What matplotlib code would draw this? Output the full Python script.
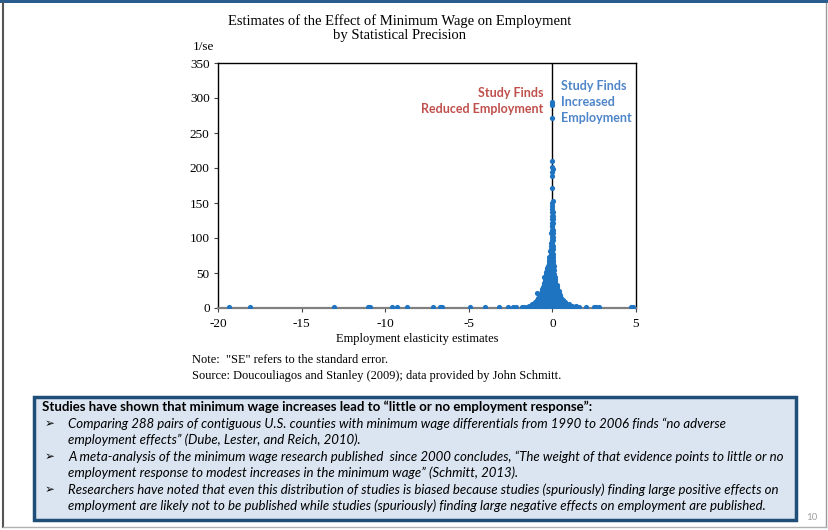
import matplotlib
matplotlib.use("Agg")
import matplotlib.pyplot as plt
from matplotlib.patches import Rectangle
from matplotlib.lines import Line2D

# ---------------- data ----------------
# scattered low-precision estimates along the bottom
outlier_x = [-19.34, -18.07, -13.08, -11.03, -10.93, -9.62, -9.32, -8.70, -7.15,
             -6.71, -6.59, -4.90, -4.04, -3.22, -2.68, -2.38, -2.18, -1.80,
             1.41, 2.00, 2.50, 2.60, 2.80, 4.72, 4.80]
outlier_y = [1.0, 1.0, 1.0, 1.0, 1.0, 1.0, 1.0, 1.0, 1.0,
             1.0, 1.0, 1.0, 1.0, 1.0, 1.5, 1.0, 1.5, 2.0,
             2.5, 1.5, 1.0, 1.5, 1.5, 1.0, 1.0]

# dense cluster around zero: precision levels and the estimates at each level
blob_levels = [1, 3, 6, 9, 12, 15, 18, 21, 24, 27, 30, 33, 36, 39, 42, 45, 48,
               51, 54, 57, 60, 63, 66, 69, 73, 77, 81, 85, 89, 93, 97, 102,
               107, 112, 117, 122, 127, 132, 137]
blob_x = [
    [-1.7, -1.5, -1.3, -1.1, -0.9, -0.7, -0.5, -0.3, -0.1, 0.1, 0.3, 0.5, 0.7, 0.9, 1.1, 1.3, 1.6],
    [-1.4, -1.2, -1.0, -0.8, -0.6, -0.4, -0.2, 0.0, 0.2, 0.4, 0.6, 0.8, 1.0, 1.2],
    [-1.2, -1.0, -0.8, -0.6, -0.4, -0.2, 0.0, 0.2, 0.4, 0.6, 0.8, 1.0],
    [-1.05, -0.85, -0.65, -0.45, -0.25, -0.05, 0.15, 0.35, 0.55, 0.75],
    [-0.95, -0.75, -0.55, -0.35, -0.15, 0.05, 0.25, 0.45, 0.62],
    [-0.85, -0.65, -0.45, -0.25, -0.05, 0.15, 0.35, 0.52],
    [-0.75, -0.55, -0.35, -0.15, 0.05, 0.25, 0.45],
    [-0.68, -0.5, -0.3, -0.1, 0.1, 0.3, 0.42],
    [-0.62, -0.45, -0.28, -0.1, 0.08, 0.25, 0.4],
    [-0.6, -0.42, -0.25, -0.08, 0.1, 0.28],
    [-0.58, -0.4, -0.22, -0.05, 0.12, 0.3],
    [-0.52, -0.36, -0.2, -0.04, 0.12, 0.25],
    [-0.5, -0.34, -0.18, -0.02, 0.14],
    [-0.45, -0.3, -0.15, 0.0, 0.15],
    [-0.45, -0.28, -0.12, 0.02, 0.15],
    [-0.48, -0.3, -0.14, 0.0, 0.15],
    [-0.4, -0.25, -0.1, 0.05, 0.12],
    [-0.38, -0.22, -0.08, 0.06],
    [-0.33, -0.18, -0.05, 0.08],
    [-0.3, -0.15, -0.02, 0.06],
    [-0.28, -0.14, 0.0, 0.08],
    [-0.22, -0.1, 0.02],
    [-0.2, -0.08, 0.03],
    [-0.18, -0.05, 0.04],
    [-0.22, -0.04, 0.04],
    [-0.1, 0.02],
    [-0.12, 0.0],
    [-0.08, 0.03],
    [-0.06, 0.02],
    [-0.1, 0.0],
    [-0.05, 0.03],
    [-0.04, 0.02],
    [-0.06, 0.01],
    [-0.03, 0.02],
    [-0.05, 0.0],
    [-0.02, 0.03],
    [-0.04, 0.01],
    [-0.03, 0.02],
    [-0.02, 0.01],
]
# isolated point left of the cluster
side_x = [-0.9]
side_y = [22]

# very precise estimates forming the spike
spike_x = [-0.04, 0.0, -0.02, 0.01, -0.01, 0.0, -0.02, 0.01, -0.01, 0.0, 0.0, -0.02, -0.01, 0.0]
spike_y = [142, 146, 150, 153, 171, 188, 195, 198, 202, 210, 272, 290, 292, 295]

x_ticks = [-20, -15, -10, -5, 0, 5]
y_ticks = [0, 50, 100, 150, 200, 250, 300, 350]

title_text = "Estimates of the Effect of Minimum Wage on Employment\nby Statistical Precision"
x_label = "Employment elasticity estimates"
y_label = "1/se"
note_lines = ['Note:  "SE" refers to the standard error.',
              'Source: Doucouliagos and Stanley (2009); data provided by John Schmitt.']
left_label = "Study Finds\nReduced Employment"
right_label = "Study Finds\nIncreased\nEmployment"
box_heading = "Studies have shown that minimum wage increases lead to \u201clittle or no employment response\u201d:"
box_lines = [
    ("\u27a2", "Comparing 288 pairs of contiguous U.S. counties with minimum wage differentials from 1990 to 2006 finds \u201cno adverse"),
    ("", "employment effects\u201d (Dube, Lester, and Reich, 2010)."),
    ("\u27a2", "A meta-analysis of the minimum wage research published  since 2000 concludes, \u201cThe weight of that evidence points to little or no"),
    ("", "employment response to modest increases in the minimum wage\u201d (Schmitt, 2013)."),
    ("\u27a2", "Researchers have noted that even this distribution of studies is biased because studies (spuriously) finding large positive effects on"),
    ("", "employment are likely not to be published while studies (spuriously) finding large negative effects on employment are published."),
]
page_number = "10"

# ---------------- figure ----------------
W, H = 829, 530
fig = plt.figure(figsize=(W / 100, H / 100), dpi=100)
fig.patch.set_facecolor("white")

def fx(px):
    return px / W

def fy(py):
    return 1 - py / H

# slide frame
fig.add_artist(Rectangle((0, fy(3)), 1, 3 / H, transform=fig.transFigure,
                         facecolor="#2a5d8f", edgecolor="none"))
fig.add_artist(Line2D([fx(3.5), fx(3.5)], [fy(3), fy(527)], transform=fig.transFigure,
                      color="#555555", lw=1.5))
fig.add_artist(Line2D([fx(826), fx(826)], [fy(3), fy(527)], transform=fig.transFigure,
                      color="#9a9a9a", lw=1.0))
fig.add_artist(Line2D([fx(3), fx(826)], [fy(527), fy(527)], transform=fig.transFigure,
                      color="#b0b0b0", lw=1.0))

serif = "Liberation Serif"
ax = fig.add_axes([fx(218), fy(308), fx(636) - fx(218), fy(63) - fy(308)])
ax.set_xlim(-20, 5)
ax.set_ylim(0, 350)

pt_color = "#1f74c2"
ms = 14
ax.axvline(0, color="black", lw=1.0, zorder=2)
ax.scatter(outlier_x, outlier_y, s=ms, color=pt_color, zorder=3, linewidths=0)
bx, by = [], []
for lvl, xs in zip(blob_levels, blob_x):
    for v in xs:
        bx.append(v)
        by.append(lvl)
ax.scatter(bx, by, s=ms, color=pt_color, zorder=3, linewidths=0)
ax.scatter(side_x, side_y, s=ms, color=pt_color, zorder=3, linewidths=0)
ax.scatter(spike_x, spike_y, s=ms, color=pt_color, zorder=3, linewidths=0)

ax.set_xticks(x_ticks)
ax.set_xticklabels([str(t) for t in x_ticks])
ax.set_yticks(y_ticks)
ax.set_yticklabels([str(t) for t in y_ticks])
for lab in ax.get_xticklabels() + ax.get_yticklabels():
    lab.set_fontfamily(serif)
    lab.set_fontsize(9.5)
ax.tick_params(axis="y", direction="out", length=3, width=0.8, pad=3, color="#444444")
ax.tick_params(axis="x", direction="out", length=3, width=0.8, pad=4, color="#444444")
for side in ["top", "right", "left"]:
    ax.spines[side].set_color("black")
    ax.spines[side].set_linewidth(1.0)
ax.spines["bottom"].set_color("#808080")
ax.spines["bottom"].set_linewidth(1.6)

fig.text(fx(400), fy(28), title_text, ha="center", va="center", fontfamily=serif,
         fontsize=10.5, linespacing=1.15)
fig.text(fx(203), fy(47), y_label, ha="center", va="center", fontfamily=serif, fontsize=9.5)
fig.text(fx(417), fy(339), x_label, ha="center", va="center", fontfamily=serif, fontsize=9)
fig.text(fx(192), fy(360), note_lines[0], ha="left", va="center", fontfamily=serif, fontsize=8.9)
fig.text(fx(192), fy(376), note_lines[1], ha="left", va="center", fontfamily=serif, fontsize=8.9)

sans = ["Lato", "DejaVu Sans"]
fig.text(fx(543), fy(101), left_label, ha="right", va="center", fontfamily=sans,
         fontweight="bold", fontsize=9, color="#c0504d", linespacing=1.45, multialignment="right")
fig.text(fx(561), fy(102), right_label, ha="left", va="center", fontfamily=sans,
         fontweight="bold", fontsize=9, color="#4f85c9", linespacing=1.45)

# text box
fig.add_artist(Rectangle((fx(34), fy(520)), fx(796) - fx(34), fy(397) - fy(520),
                         transform=fig.transFigure, facecolor="#dbe5f1",
                         edgecolor="#1f4e79", lw=2.5))
fig.text(fx(42), fy(407), box_heading, ha="left", va="center", fontfamily=sans,
         fontweight="bold", fontsize=9.5, color="black")
line_y = [424, 440, 457, 473, 490, 506]
for (bullet, txt), yy in zip(box_lines, line_y):
    if bullet:
        fig.text(fx(45), fy(yy), bullet, ha="left", va="center",
                 fontfamily=["DejaVu Sans"], fontsize=8.5, color="black")
    fig.text(fx(68), fy(yy), txt, ha="left", va="center", fontfamily=sans,
             fontstyle="italic", fontsize=9.5, color="black")

fig.text(fx(812), fy(517), page_number, ha="center", va="center", fontfamily=sans,
         fontsize=7, color="#a0a0a0")

fig.savefig("out.png", dpi=100)
